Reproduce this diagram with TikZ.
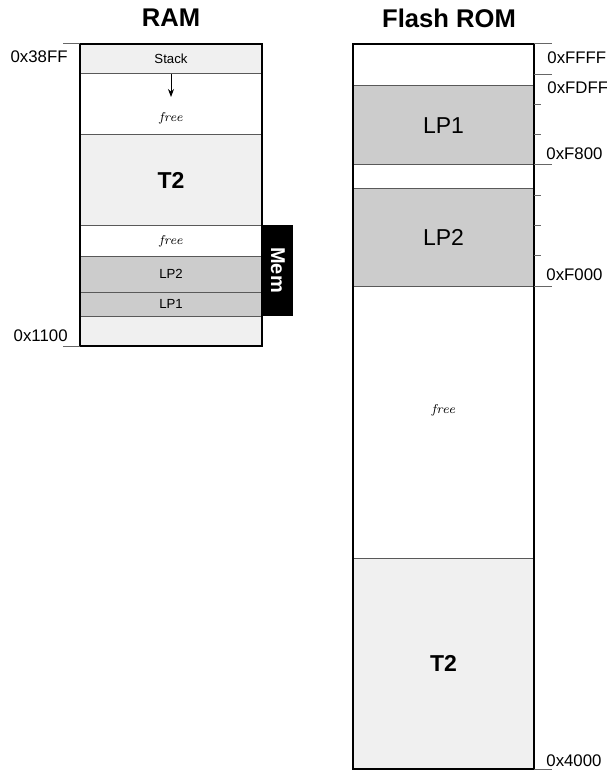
\documentclass[tikz,border=0pt]{standalone}
\usepackage{fontspec}
\setsansfont{Liberation Sans}
\usetikzlibrary{positioning,fit,arrows.meta}
\definecolor{palegray}{HTML}{F0F0F0}
\definecolor{lpgray}{HTML}{CCCCCC}

\tikzset{
  memblock/.style={draw=black!65, line width=0.5pt, inner sep=0pt, outer sep=0pt,
    font=\sffamily\fontsize{6.6}{8}\selectfont},
  ramblock/.style={memblock, minimum width=91pt},
  romblock/.style={memblock, minimum width=90.5pt},
  used/.style={fill=palegray},
  lp/.style={fill=lpgray},
  big/.style={font=\sffamily\fontsize{11.5}{13}\selectfont},
  bigbold/.style={font=\sffamily\bfseries\fontsize{11.5}{13}\selectfont},
  freetext/.style={font=\itshape\fontsize{6.4}{7}\selectfont, text=black},
  frame/.style={draw, line width=0.8pt, inner sep=0pt, outer sep=0pt},
  title/.style={font=\sffamily\bfseries\fontsize{12.8}{15}\selectfont},
  addr/.style={font=\sffamily\fontsize{8.4}{10}\selectfont, inner sep=0pt},
  tick/.style={draw=black!60, line width=0.5pt}
}

\begin{document}
\begin{tikzpicture}[x=0.5pt, y=-0.5pt]
\useasboundingbox (0,0) rectangle (606,770);

% titles
\node[title] (ramtitle) at (171,18) {RAM};
\node[title] (romtitle) at (449,18) {Flash ROM};

% RAM
\node[ramblock, used, minimum height=15pt, anchor=north west] (stack) at (80,44) {Stack};
\node[ramblock, minimum height=30.5pt, below=0pt of stack] (ramfree) {};
\node[ramblock, used, bigbold, minimum height=45.5pt, below=0pt of ramfree] (ramtwo) {T2};
\node[ramblock, minimum height=15pt, below=0pt of ramtwo] (ramgap) {};
\node[ramblock, lp, minimum height=18pt, below=0pt of ramgap] (ramlptwo) {LP2};
\node[ramblock, lp, minimum height=12pt, below=0pt of ramlptwo] (ramlpone) {LP1};
\node[ramblock, used, minimum height=15pt, below=0pt of ramlpone] (ramlow) {};
\node[frame, fit=(stack)(ramlow)] (ram) {};

\node[freetext] (ramfreetxt) at ([yshift=-6.8pt]ramfree.center) {free};
\node[freetext] (ramgaptxt) at (ramgap.center) {free};
\draw[-{Stealth[length=4pt,width=3pt]}, line width=0.4pt] (stack.south) -- ++(0,23) coordinate (stackend);

\node[fill=black, text=white, inner sep=0pt, minimum width=15.5pt, minimum height=45.5pt,
  anchor=south west, font=\sffamily\bfseries\fontsize{10}{12}\selectfont] (mem)
  at (ramlpone.south east) {\rotatebox{-90}{Mem}};

\draw[tick] (ram.north west) -- ++(-8.5pt,0) coordinate (ramtoptick);
\draw[tick] (ram.south west) -- ++(-8.5pt,0) coordinate (ramlowtick);
\node[addr, anchor=east] (ramtopaddr) at (68,57) {0x38FF};
\node[addr, anchor=east] (ramlowaddr) at (68,336) {0x1100};

% Flash ROM
\node[romblock, minimum height=21pt, anchor=north west] (romtop) at (353,44) {};
\node[romblock, lp, big, minimum height=39.5pt, below=0pt of romtop] (romlpone) {LP1};
\node[romblock, minimum height=12pt, below=0pt of romlpone] (romgap) {};
\node[romblock, lp, big, minimum height=48.5pt, below=0pt of romgap] (romlptwo) {LP2};
\node[romblock, minimum height=136pt, below=0pt of romlptwo] (romfree) {};
\node[romblock, used, bigbold, minimum height=105.5pt, below=0pt of romfree] (romtwo) {T2};
\node[frame, fit=(romtop)(romtwo)] (rom) {};

\node[freetext] (romfreetxt) at ([yshift=6pt]romfree.center) {free};

\foreach \k in {0,1,4,8}
  \draw[tick] ([yshift={-15.125pt*\k}]rom.north east) -- ++(9pt,0);
\foreach \k in {2,3,5,6,7}
  \draw[tick] ([yshift={-15.125pt*\k}]rom.north east) -- ++(3.5pt,0);
\draw[tick] (rom.south east) -- ++(9pt,0) coordinate (romlowtick);

\node[addr, anchor=west] (romffff) at (547,58) {0xFFFF};
\node[addr, anchor=west] (romfdff) at (547,88) {0xFDFF};
\node[addr, anchor=west] (romf800) at (546,154) {0xF800};
\node[addr, anchor=west] (romf000) at (546,275) {0xF000};
\node[addr, anchor=west] (rom4000) at (546,761) {0x4000};
\end{tikzpicture}
\end{document}
